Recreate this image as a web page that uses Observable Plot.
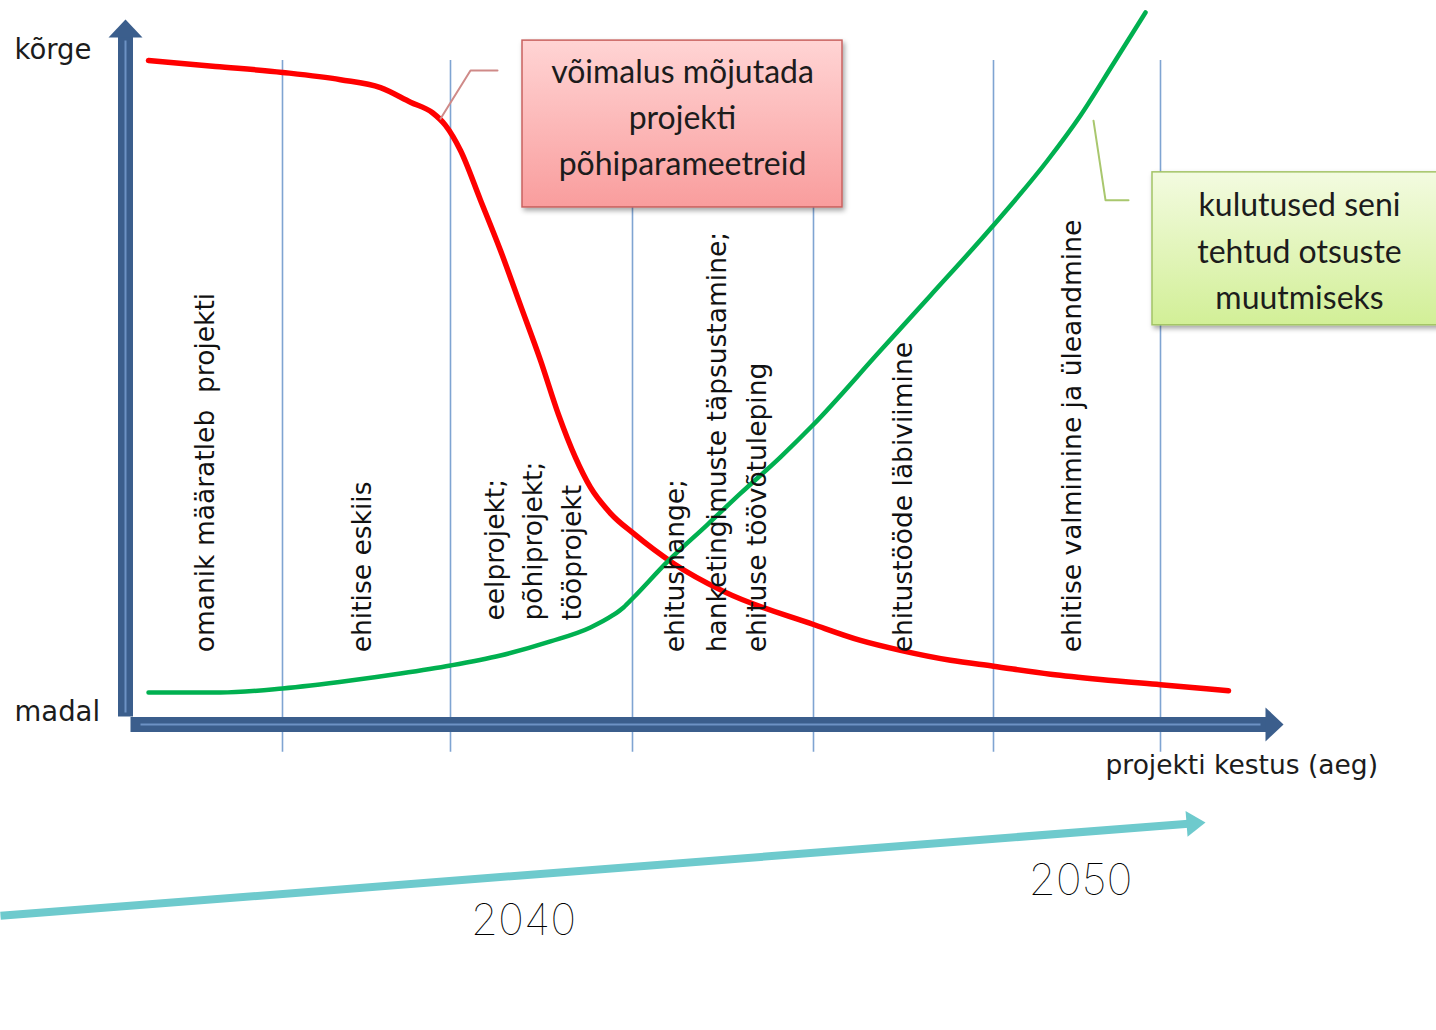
<!DOCTYPE html>
<html><head><meta charset="utf-8">
<script src="https://cdn.jsdelivr.net/npm/d3@7"></script>
<script src="https://cdn.jsdelivr.net/npm/@observablehq/plot@0.6"></script>
<style>html,body{margin:0;padding:0;background:#fff;} svg{display:block}</style>
</head><body><div id="chart"></div>
<script>
// ---- data (time units along the project, level 0 = madal .. 100 = kõrge) ----
const phaseBoundaries = [15.7, 32.5, 50.7, 68.8, 86.8, 103.5];
const phaseLabelLines = ["omanik määratleb  projekti", "ehitise eskiis", "eelprojekt;", "põhiprojekt;", "tööprojekt",
  "ehitushange;", "hanketingimuste täpsustamine;", "ehituse töövõtuleping", "ehitustööde läbiviimine", "ehitise valmimine ja üleandmine"];
const phaseLabelTime = [8, 23.7, 37, 40.8, 44.7, 55, 59.2, 63.2, 77.8, 94.7];
const phaseLabelLevel = [10.6, 10.6, 15.4, 15.4, 15.4, 10.6, 10.6, 10.6, 10.6, 10.6];

const redTime  = [2.3, 9, 15.7, 21.5, 25.5, 28.5, 30.7, 32, 33.5, 35.5, 37.5, 39.5, 41.5, 43.3, 45, 46.5, 48.5, 50.8, 54.8, 59.8, 68.8, 73.5, 77.5, 82.5, 86.8, 92.5, 97.5, 103.5, 110.3];
const redLevel = [100, 99.1, 98.2, 97.1, 95.9, 93.7, 92.1, 90.2, 86.4, 78.9, 71.3, 63, 54.7, 46.5, 40, 35.5, 31.6, 28.55, 24.02, 19.8, 14.8, 12.4, 10.9, 9.4, 8.5, 7.3, 6.5, 5.7, 4.8];

const greenTime  = [2.3, 9.5, 15.7, 22.5, 27.5, 32.5, 37.5, 42.5, 46.5, 48.7, 49.8, 50.8, 54.2, 58.2, 61.5, 65.5, 68.7, 75.5, 80.5, 86.6, 92.2, 95.5, 98.8, 102];
const greenLevel = [4.53, 4.53, 5.14, 6.34, 7.4, 8.61, 10.12, 12.24, 14.35, 16.16, 17.37, 18.88, 24.3, 29.9, 34.6, 40.1, 44.86, 56.19, 64.5, 74.77, 84.89, 91.69, 99.55, 107.25];

const levelLabels = ["kõrge", "madal"];
const levelLabelValues = [101.5, 1.5];
const axisTitle = "projekti kestus (aeg)";

const redBoxText = "võimalus mõjutada\nprojekti\npõhiparameetreid";
const greenBoxText = "kulutused seni\ntehtud otsuste\nmuutmiseks";

const yearLabels = ["2040", "2050"];
const yearTime = [39.8, 95.5];
const yearLevel = [-29.9, -23.9];
const timelineStart = {x: -12.5, y: -29.2};
const timelineEnd = {x: 108, y: -15.1};

// ---- build ----
const axisColor = "#3b5e8c";
const arrowHead = (w, h) => ({draw(ctx) { ctx.moveTo(0, 0); ctx.lineTo(w / 2, h); ctx.lineTo(-w / 2, h); ctx.closePath(); }});
const red = redTime.map((t, i) => ({t, v: redLevel[i]}));
const green = greenTime.map((t, i) => ({t, v: greenLevel[i]}));
const phases = phaseLabelLines.map((s, i) => ({s, t: phaseLabelTime[i], v: phaseLabelLevel[i]}));
const years = yearLabels.map((s, i) => ({s, t: yearTime[i], v: yearLevel[i]}));

const svg = Plot.plot({
  width: 1436, height: 1030, margin: 0,
  x: {domain: [-12.5, 131.1], axis: null},
  y: {domain: [-46.53, 109.06], axis: null},
  style: {background: "white"},
  marks: [
    Plot.ruleX(phaseBoundaries, {y1: -4.5, y2: 100, stroke: "#7fa4d2", strokeWidth: 1.6}),
    // axes
    Plot.link([{x1: 0, y1: 0.9, x2: 0, y2: 103.8}], {x1: "x1", y1: "y1", x2: "x2", y2: "y2", stroke: axisColor, strokeWidth: 15}),
    Plot.link([{x1: 0.5, y1: -0.3, x2: 114.2, y2: -0.3}], {x1: "x1", y1: "y1", x2: "x2", y2: "y2", stroke: axisColor, strokeWidth: 15}),
    Plot.link([{x1: 0, y1: 1.5, x2: 0, y2: 103}], {x1: "x1", y1: "y1", x2: "x2", y2: "y2", stroke: "#6d92c4", strokeWidth: 2}),
    Plot.link([{x1: 1.5, y1: -0.3, x2: 113.5, y2: -0.3}], {x1: "x1", y1: "y1", x2: "x2", y2: "y2", stroke: "#6d92c4", strokeWidth: 2}),
    Plot.dot([{x: 0, y: 106.2}], {x: "x", y: "y", symbol: arrowHead(34, 18), fill: axisColor, stroke: "none", r: 5}),
    Plot.dot([{x: 115.8, y: -0.3}], {x: "x", y: "y", symbol: arrowHead(34, 18), fill: axisColor, stroke: "none", r: 5, rotate: 90}),
    // curves
    Plot.line(red, {x: "t", y: "v", stroke: "#ff0000", strokeWidth: 5.5, curve: "monotone-x"}),
    Plot.line(green, {x: "t", y: "v", stroke: "#00b050", strokeWidth: 4.5, curve: "monotone-x"}),
    // phase labels
    Plot.text(phases, {x: "t", y: "v", text: "s", rotate: -90, textAnchor: "start", lineAnchor: "middle", fontSize: 26.5, fontFamily: "DejaVu Sans", fill: "#111"}),
    // callout connectors
    Plot.line([{t: 31.5, v: 91.2}, {t: 34.5, v: 98.5}, {t: 37.2, v: 98.5}], {x: "t", y: "v", stroke: "#cf8a88", strokeWidth: 2}),
    Plot.line([{t: 96.8, v: 90.9}, {t: 98, v: 78.9}, {t: 100.3, v: 78.9}], {x: "t", y: "v", stroke: "#a9c76e", strokeWidth: 2}),
    // boxes
    Plot.rect([{x1: 39.7, x2: 71.7, y1: 77.8, y2: 103}], {x1: "x1", x2: "x2", y1: "y1", y2: "y2", fill: "url(#gradRed)", stroke: "#c9625f", strokeWidth: 1.5}),
    Plot.rect([{x1: 102.7, x2: 132, y1: 60, y2: 83.1}], {x1: "x1", x2: "x2", y1: "y1", y2: "y2", fill: "url(#gradGreen)", stroke: "#a3c466", strokeWidth: 1.5}),
    Plot.text([{s: redBoxText, t: 55.7, v: 91.85}], {x: "t", y: "v", text: "s", fontSize: 32, fontFamily: "Lato", lineHeight: 1.44, fill: "#1c1c1c"}),
    Plot.text([{s: greenBoxText, t: 117.4, v: 71.7}], {x: "t", y: "v", text: "s", fontSize: 32, fontFamily: "Lato", lineHeight: 1.44, fill: "#1c1c1c"}),
    // axis labels
    Plot.text(levelLabels, {x: -11.1, y: (d, i) => levelLabelValues[i], text: d => d, textAnchor: "start", fontSize: 27.5, fontFamily: "DejaVu Sans", fill: "#1c1c1c"}),
    Plot.text([axisTitle], {x: 98, y: -6.5, text: d => d, textAnchor: "start", fontSize: 26.5, fontFamily: "DejaVu Sans", fill: "#1c1c1c"}),
    // timeline
    Plot.link([{x1: timelineStart.x, y1: timelineStart.y, x2: timelineEnd.x - 1.7, y2: timelineEnd.y - 0.2}], {x1: "x1", y1: "y1", x2: "x2", y2: "y2", stroke: "#6ecacd", strokeWidth: 8}),
    Plot.dot([timelineEnd], {x: "x", y: "y", symbol: arrowHead(26, 19), fill: "#6ecacd", stroke: "none", r: 5, rotate: 85.6}),
    Plot.text(years, {x: "t", y: "v", text: "s", fontSize: 44, fontFamily: "Inter", fontWeight: 100, fill: "#000"})
  ]
});

const defs = d3.select(svg).insert("defs", ":first-child");
const gr = defs.append("linearGradient").attr("id", "gradRed").attr("x1", 0).attr("y1", 0).attr("x2", 0).attr("y2", 1);
gr.append("stop").attr("offset", "0%").attr("stop-color", "#ffd4d4");
gr.append("stop").attr("offset", "100%").attr("stop-color", "#f99d9d");
const gg = defs.append("linearGradient").attr("id", "gradGreen").attr("x1", 0).attr("y1", 0).attr("x2", 0).attr("y2", 1);
gg.append("stop").attr("offset", "0%").attr("stop-color", "#f3fbe0");
gg.append("stop").attr("offset", "100%").attr("stop-color", "#d2ef97");
const f = defs.append("filter").attr("id", "shadow").attr("x", "-10%").attr("y", "-10%").attr("width", "130%").attr("height", "140%");
f.append("feDropShadow").attr("dx", 2).attr("dy", 3).attr("stdDeviation", 2.5).attr("flood-color", "#000").attr("flood-opacity", 0.35);
d3.select(svg).selectAll("g").filter(function () { const v = this.getAttribute("fill"); return v && v.startsWith("url(#grad"); }).attr("filter", "url(#shadow)");

document.getElementById("chart").appendChild(svg);
</script>
</body></html>
